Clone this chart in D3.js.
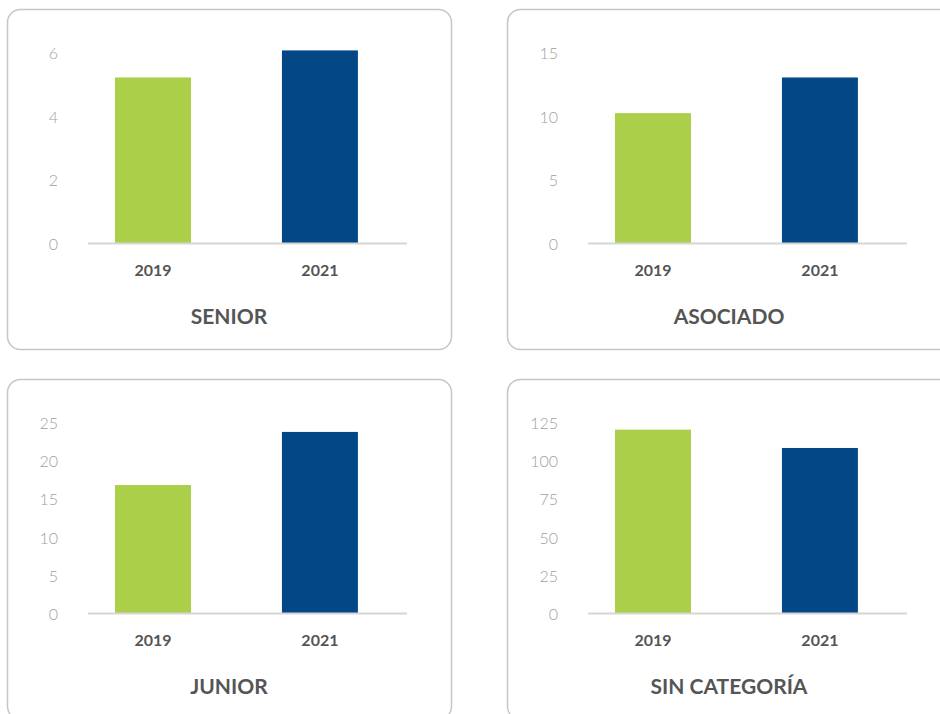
<!DOCTYPE html>
<html>
<head>
<meta charset="utf-8">
<script src="https://cdn.jsdelivr.net/npm/d3@7"></script>
<style>
  body { margin: 0; background: #fff; }
  svg { display: block; }
</style>
</head>
<body>
<script>
//chart data, one small array per thing
var years = ["2019", "2021"];
var titles = ["SENIOR", "ASOCIADO", "JUNIOR", "SIN CATEGORÍA"];
var seniorValues = [5.2, 6.05];
var asociadoValues = [10.2, 13.0];
var juniorValues = [16.75, 23.7];
var sinCategoriaValues = [120, 108];
var seniorTicks = [0, 2, 4, 6];
var asociadoTicks = [0, 5, 10, 15];
var juniorTicks = [0, 5, 10, 15, 20, 25];
var sinCategoriaTicks = [0, 25, 50, 75, 100, 125];
var barColors = ["#abcf48", "#034786"];

(function(){

var width = 940,
    height = 714;

var svg = d3.select("body")
    .append("svg")
    .attr("width", width)
    .attr("height", height);

//panels laid out 2x2
var panels = [
    {title: titles[0], values: seniorValues, ticks: seniorTicks, x: 0, y: 0},
    {title: titles[1], values: asociadoValues, ticks: asociadoTicks, x: 500, y: 0},
    {title: titles[2], values: juniorValues, ticks: juniorTicks, x: 0, y: 370},
    {title: titles[3], values: sinCategoriaValues, ticks: sinCategoriaTicks, x: 500, y: 370}
];

panels.forEach(drawPanel);

function drawPanel(p){
    var g = svg.append("g")
        .attr("transform", "translate(" + p.x + "," + p.y + ")");

    //rounded frame
    g.append("rect")
        .attr("x", 7.5)
        .attr("y", 9.5)
        .attr("width", 444)
        .attr("height", 340)
        .attr("rx", 13)
        .attr("fill", "#fff")
        .attr("stroke", "#c6c6c6")
        .attr("stroke-width", 1.5);

    var x = d3.scaleBand()
        .domain(years)
        .range([88, 407])
        .paddingInner(0.545)
        .paddingOuter(0.228)
        .align(0.355);

    var y = d3.scaleLinear()
        .domain([0, d3.max(p.ticks)])
        .range([243, 52]);

    //y labels, no axis line
    var yAxis = g.append("g")
        .attr("transform", "translate(60,0)")
        .call(d3.axisLeft(y).tickValues(p.ticks).tickFormat(d3.format("d")).tickSize(0).tickPadding(2));
    yAxis.select(".domain").remove();
    yAxis.selectAll("text")
        .attr("font-family", "Lato, 'Open Sans', sans-serif")
        .attr("font-weight", 300)
        .attr("font-size", 16)
        .attr("fill", "#a0a0a0")
        .attr("dy", "0.4em");

    //bars
    g.selectAll(".bar")
        .data(p.values)
        .enter()
        .append("rect")
        .attr("class", "bar")
        .attr("x", function(d, i){ return x(years[i]); })
        .attr("y", function(d){ return y(d); })
        .attr("width", x.bandwidth())
        .attr("height", function(d){ return y(0) - y(d); })
        .attr("fill", function(d, i){ return barColors[i]; });

    //baseline
    g.append("line")
        .attr("x1", x.range()[0])
        .attr("x2", x.range()[1])
        .attr("y1", y(0) + 0.5)
        .attr("y2", y(0) + 0.5)
        .attr("stroke", "#d6d6d6")
        .attr("stroke-width", 2);

    //year labels
    var xAxis = g.append("g")
        .attr("transform", "translate(0," + y(0) + ")")
        .call(d3.axisBottom(x).tickSize(0).tickPadding(22));
    xAxis.select(".domain").remove();
    xAxis.selectAll("text")
        .attr("font-family", "Lato, 'Open Sans', sans-serif")
        .attr("font-weight", "bold")
        .attr("font-size", 16)
        .attr("fill", "#555");

    //panel title
    g.append("text")
        .attr("x", 229)
        .attr("y", 324)
        .attr("text-anchor", "middle")
        .attr("font-family", "Lato, 'Open Sans', sans-serif")
        .attr("font-weight", "bold")
        .attr("font-size", 21)
        .attr("fill", "#555")
        .text(p.title);
}

})();
</script>
</body>
</html>
